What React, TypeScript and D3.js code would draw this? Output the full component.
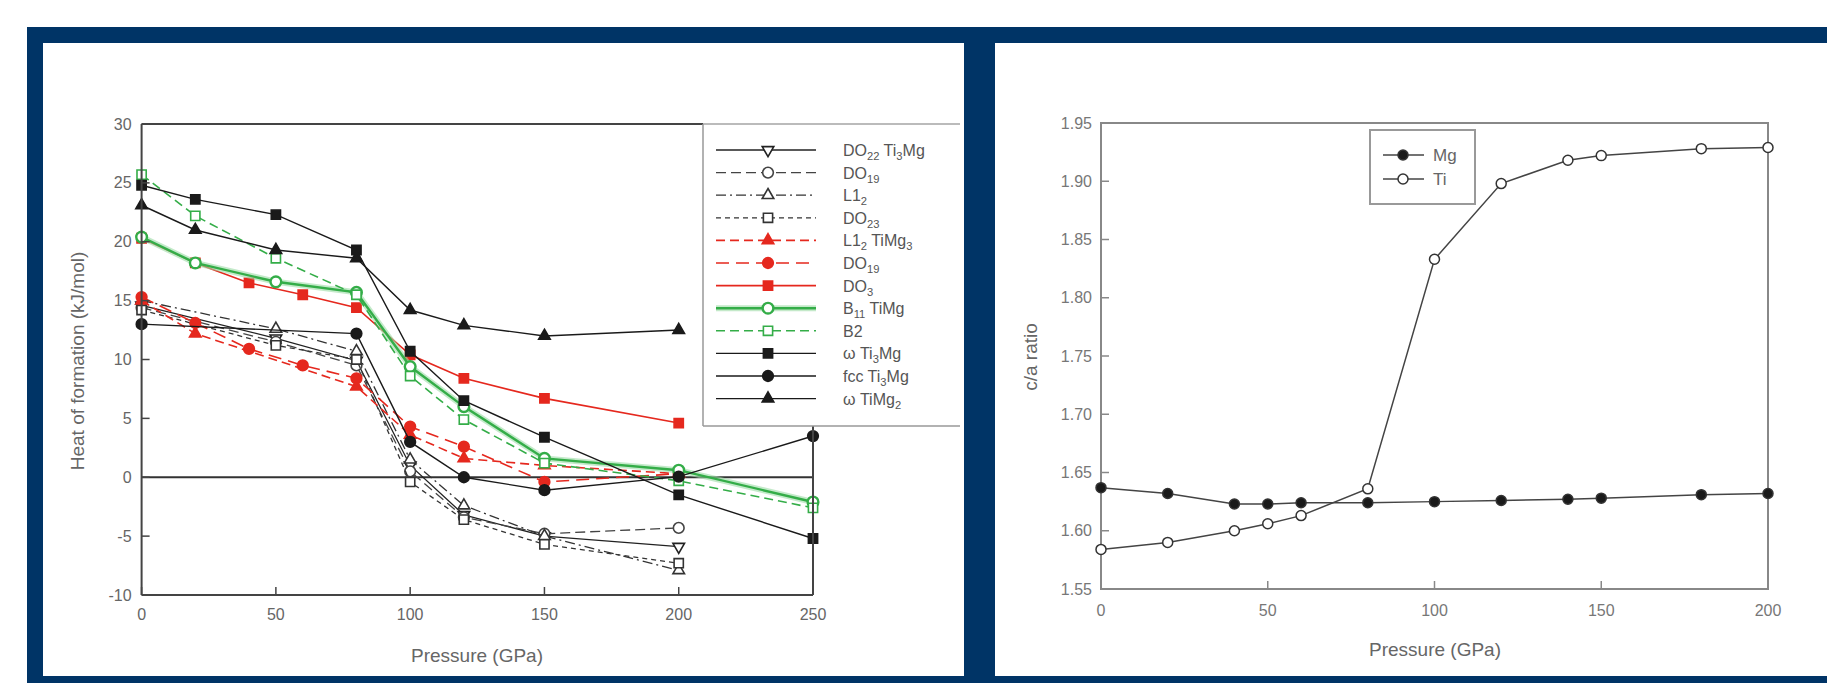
import React from 'react';
import * as d3 from 'd3';

// ---- left chart: heat of formation (kJ/mol) vs pressure (GPa)
const pOpen = [0, 50, 80, 100, 120, 150, 200];
const do22Ti3Mg = [14.6, 11.8, 9.9, 1.0, -3.2, -5.0, -5.9];
const do19Black = [14.4, 11.5, 9.5, 0.5, -3.4, -4.8, -4.3];
const l12Black = [15.0, 12.6, 10.7, 1.5, -2.4, -5.0, -7.9];
const do23Black = [14.2, 11.2, 10.0, -0.4, -3.6, -5.7, -7.3];
const pL12TiMg3 = [0, 20, 80, 100, 120, 150, 200];
const l12TiMg3 = [15.0, 12.2, 7.7, 3.6, 1.6, 1.0, 0.3];
const pDO19Red = [0, 20, 40, 60, 80, 100, 120, 150, 200];
const do19Red = [15.3, 13.1, 10.9, 9.5, 8.4, 4.3, 2.6, -0.4, 0.3];
const pDO3 = [0, 20, 40, 60, 80, 100, 120, 150, 200];
const do3Red = [20.3, 18.2, 16.5, 15.5, 14.4, 10.4, 8.4, 6.7, 4.6];
const pWide = [0, 20, 50, 80, 100, 120, 150, 200, 250];
const b11TiMg = [20.4, 18.2, 16.6, 15.7, 9.4, 6.0, 1.6, 0.6, -2.1];
const b2 = [25.7, 22.2, 18.6, 15.5, 8.6, 4.9, 1.2, -0.3, -2.6];
const omegaTi3Mg = [24.8, 23.6, 22.3, 19.3, 10.7, 6.5, 3.4, -1.5, -5.2];
const pFcc = [0, 80, 100, 120, 150, 200, 250];
const fccTi3Mg = [13.0, 12.2, 3.0, 0.0, -1.1, 0.05, 3.5];
const pOmegaTiMg2 = [0, 20, 50, 80, 100, 120, 150, 200];
const omegaTiMg2 = [23.1, 21.0, 19.3, 18.6, 14.2, 12.9, 12.0, 12.5];
const leftXTicks = [0, 50, 100, 150, 200, 250];
const leftYTicks = [-10, -5, 0, 5, 10, 15, 20, 25, 30];

// ---- right chart: c/a ratio vs pressure
const pRight = [0, 20, 40, 50, 60, 80, 100, 120, 140, 150, 180, 200];
const mgRatio = [1.637, 1.632, 1.623, 1.623, 1.624, 1.624, 1.625, 1.626, 1.627, 1.628, 1.631, 1.632];
const tiRatio = [1.584, 1.590, 1.600, 1.606, 1.613, 1.636, 1.833, 1.898, 1.918, 1.922, 1.928, 1.929];
const rightXTicks = [0, 50, 100, 150, 200];
const rightYTicks = [1.55, 1.6, 1.65, 1.7, 1.75, 1.8, 1.85, 1.9, 1.95];

const NAVY = '#003466';
const RED = '#e5281e';
const GREEN = '#34ad48';
const FONT = '"Liberation Sans", Arial, sans-serif';

// label pieces: [text, isSubscript]
type Piece = [string, boolean?];

const series = [
  { label: [['DO'], ['22', true], [' Ti'], ['3', true], ['Mg']] as Piece[], xs: pOpen, ys: do22Ti3Mg, color: '#222', dash: '', shape: 'triDown', filled: false, width: 1.3 },
  { label: [['DO'], ['19', true]] as Piece[], xs: pOpen, ys: do19Black, color: '#444', dash: '10 5', shape: 'circle', filled: false, width: 1.3 },
  { label: [['L1'], ['2', true]] as Piece[], xs: pOpen, ys: l12Black, color: '#333', dash: '10 4 2 4', shape: 'tri', filled: false, width: 1.3 },
  { label: [['DO'], ['23', true]] as Piece[], xs: pOpen, ys: do23Black, color: '#333', dash: '5 4', shape: 'square', filled: false, width: 1.3 },
  { label: [['L1'], ['2', true], [' TiMg'], ['3', true]] as Piece[], xs: pL12TiMg3, ys: l12TiMg3, color: RED, dash: '9 5', shape: 'tri', filled: true, width: 1.6 },
  { label: [['DO'], ['19', true]] as Piece[], xs: pDO19Red, ys: do19Red, color: RED, dash: '13 7', shape: 'circle', filled: true, width: 1.6 },
  { label: [['DO'], ['3', true]] as Piece[], xs: pDO3, ys: do3Red, color: RED, dash: '', shape: 'square', filled: true, width: 1.6 },
  { label: [['B'], ['11', true], [' TiMg']] as Piece[], xs: pWide, ys: b11TiMg, color: GREEN, dash: '', shape: 'circle', filled: false, width: 2.4, glow: true },
  { label: [['B2']] as Piece[], xs: pWide, ys: b2, color: GREEN, dash: '9 5', shape: 'square', filled: false, width: 1.6 },
  { label: [['ω Ti'], ['3', true], ['Mg']] as Piece[], xs: pWide, ys: omegaTi3Mg, color: '#1a1a1a', dash: '', shape: 'square', filled: true, width: 1.4 },
  { label: [['fcc Ti'], ['3', true], ['Mg']] as Piece[], xs: pFcc, ys: fccTi3Mg, color: '#1a1a1a', dash: '', shape: 'circle', filled: true, width: 1.4 },
  { label: [['ω TiMg'], ['2', true]] as Piece[], xs: pOmegaTiMg2, ys: omegaTiMg2, color: '#1a1a1a', dash: '', shape: 'tri', filled: true, width: 1.4 },
];

const symbolPath = (shape: string, size: number) => {
  const type = shape === 'circle' ? d3.symbolCircle : shape === 'square' ? d3.symbolSquare : d3.symbolTriangle;
  return d3.symbol().type(type).size(size)() as string;
};

const Marker = ({ shape, x, y, color, filled, strokeW = 1.6 }: any) => {
  const size = shape === 'circle' ? 90 : shape === 'square' ? 85 : 58;
  const rot = shape === 'triDown' ? ' rotate(180)' : '';
  return (
    <path
      d={symbolPath(shape, size)}
      transform={`translate(${x},${y})${rot}`}
      fill={filled ? color : '#fff'}
      stroke={color}
      strokeWidth={strokeW}
    />
  );
};

const Label = ({ pieces, x, y, size }: any) => {
  let shifted = false;
  return (
    <text x={x} y={y} fontSize={size} fill="#555" fontFamily={FONT}>
      {pieces.map((p: Piece, i: number) => {
        const isSub = !!p[1];
        let dy = 0;
        if (isSub && !shifted) { dy = 4; shifted = true; }
        else if (!isSub && shifted) { dy = -4; shifted = false; }
        return (
          <tspan key={i} dy={dy} fontSize={isSub ? size * 0.7 : size}>{p[0]}</tspan>
        );
      })}
    </text>
  );
};

const App = () => {
  const xL = d3.scaleLinear().domain([0, 250]).range([141.6, 813]);
  const yL = d3.scaleLinear().domain([-10, 30]).range([595, 124]);
  const xR = d3.scaleLinear().domain([0, 200]).range([1101, 1768]);
  const yR = d3.scaleLinear().domain([1.55, 1.95]).range([589, 123]);

  const lineL = d3.line<[number, number]>().x(d => xL(d[0])).y(d => yL(d[1]));
  const lineR = d3.line<[number, number]>().x(d => xR(d[0])).y(d => yR(d[1]));

  const legendX = 703, legendRight = 960, legendTop = 124, legendBottom = 426;
  const rowY = (i: number) => 150 + i * 22.6;

  return (
    <svg width={1827} height={683} style={{ position: 'absolute', left: 0, top: 0, background: '#fff' }} fontFamily={FONT}>
      {/* navy frame and white panels */}
      <rect x={27} y={27} width={1800} height={656} fill={NAVY} />
      <rect x={43} y={43} width={921} height={633} fill="#fff" />
      <rect x={995} y={43} width={832} height={633} fill="#fff" />

      {/* ---------- left chart ---------- */}
      <g>
        {/* zero line */}
        <line x1={xL(0)} x2={xL(250)} y1={yL(0)} y2={yL(0)} stroke="#333" strokeWidth={2} />

        {series.map((s, i) => {
          const pts = s.xs.map((x, j) => [x, s.ys[j]] as [number, number]);
          return (
            <g key={i}>
              {s.glow && <path d={lineL(pts) as string} fill="none" stroke="#9ddca6" strokeWidth={6} opacity={0.6} />}
              <path d={lineL(pts) as string} fill="none" stroke={s.color} strokeWidth={s.width} strokeDasharray={s.dash} />
              {pts.map((p, j) => (
                <Marker key={j} shape={s.shape} x={xL(p[0])} y={yL(p[1])} color={s.color} filled={s.filled}
                  strokeW={s.glow ? 2.4 : 1.6} />
              ))}
            </g>
          );
        })}

        {/* axes frame */}
        <line x1={xL(0)} x2={xL(0)} y1={yL(30)} y2={yL(-10)} stroke="#444" strokeWidth={2} />
        <line x1={xL(0)} x2={xL(250)} y1={yL(-10)} y2={yL(-10)} stroke="#444" strokeWidth={2} />
        <line x1={xL(0)} x2={legendX} y1={yL(30)} y2={yL(30)} stroke="#444" strokeWidth={2} />
        <line x1={xL(250)} x2={xL(250)} y1={legendBottom} y2={yL(-10)} stroke="#444" strokeWidth={2} />
        {leftYTicks.map(t => (
          <g key={t}>
            <line x1={xL(0)} x2={xL(0) + 8} y1={yL(t)} y2={yL(t)} stroke="#444" strokeWidth={1.5} />
            <text x={xL(0) - 10} y={yL(t)} dy="0.35em" textAnchor="end" fontSize={16} fill="#666">{t}</text>
          </g>
        ))}
        {leftXTicks.map(t => (
          <g key={t}>
            <line x1={xL(t)} x2={xL(t)} y1={yL(-10)} y2={yL(-10) - 8} stroke="#444" strokeWidth={1.5} />
            <text x={xL(t)} y={614} dy="0.35em" textAnchor="middle" fontSize={16} fill="#666">{t}</text>
          </g>
        ))}
        <text x={477} y={655} dy="0.35em" textAnchor="middle" fontSize={19} fill="#666">Pressure (GPa)</text>
        <text transform="translate(77,361) rotate(-90)" dy="0.35em" textAnchor="middle" fontSize={19} fill="#666">
          Heat of formation (kJ/mol)
        </text>

        {/* legend */}
        <rect x={legendX} y={legendTop} width={legendRight - legendX} height={legendBottom - legendTop} fill="#fff" stroke="none" />
        <line x1={legendX} x2={legendRight} y1={legendTop} y2={legendTop} stroke="#bbb" strokeWidth={2} />
        <line x1={legendX} x2={legendX} y1={legendTop} y2={legendBottom} stroke="#999" strokeWidth={1.5} />
        <line x1={legendX} x2={legendRight} y1={legendBottom} y2={legendBottom} stroke="#999" strokeWidth={1.5} />
        {series.map((s, i) => (
          <g key={i}>
            {s.glow && <line x1={716} x2={816} y1={rowY(i)} y2={rowY(i)} stroke="#9ddca6" strokeWidth={6} opacity={0.6} />}
            <line x1={716} x2={816} y1={rowY(i)} y2={rowY(i)} stroke={s.color} strokeWidth={s.width} strokeDasharray={s.dash} />
            <Marker shape={s.shape} x={768} y={rowY(i)} color={s.color} filled={s.filled} strokeW={s.glow ? 2.4 : 1.6} />
            <Label pieces={s.label} x={843} y={rowY(i) + 6} size={16} />
          </g>
        ))}
      </g>

      {/* ---------- right chart ---------- */}
      <g>
        <rect x={xR(0)} y={yR(1.95)} width={xR(200) - xR(0)} height={yR(1.55) - yR(1.95)} fill="none" stroke="#888" strokeWidth={2} />
        {rightYTicks.map(t => (
          <g key={t}>
            <line x1={xR(0)} x2={xR(0) + 8} y1={yR(t)} y2={yR(t)} stroke="#888" strokeWidth={1.5} />
            <text x={xR(0) - 9} y={yR(t)} dy="0.35em" textAnchor="end" fontSize={16} fill="#777">{t.toFixed(2)}</text>
          </g>
        ))}
        {rightXTicks.map(t => (
          <g key={t}>
            <line x1={xR(t)} x2={xR(t)} y1={yR(1.55)} y2={yR(1.55) - 8} stroke="#888" strokeWidth={1.5} />
            <text x={xR(t)} y={610} dy="0.35em" textAnchor="middle" fontSize={16} fill="#777">{t}</text>
          </g>
        ))}
        <text x={1435} y={649} dy="0.35em" textAnchor="middle" fontSize={19} fill="#666">Pressure (GPa)</text>
        <text transform="translate(1030,357) rotate(-90)" dy="0.35em" textAnchor="middle" fontSize={19} fill="#666">c/a ratio</text>

        {[
          { ys: mgRatio, filled: true },
          { ys: tiRatio, filled: false },
        ].map((s, i) => {
          const pts = pRight.map((x, j) => [x, s.ys[j]] as [number, number]);
          return (
            <g key={i}>
              <path d={lineR(pts) as string} fill="none" stroke="#444" strokeWidth={1.5} />
              {pts.map((p, j) => (
                <circle key={j} cx={xR(p[0])} cy={yR(p[1])} r={5} fill={s.filled ? '#1a1a1a' : '#fff'} stroke="#333" strokeWidth={1.5} />
              ))}
            </g>
          );
        })}

        {/* legend */}
        <rect x={1370} y={130} width={105} height={74} fill="#fff" stroke="#999" strokeWidth={2} />
        {[
          { name: 'Mg', filled: true, y: 155 },
          { name: 'Ti', filled: false, y: 179 },
        ].map(e => (
          <g key={e.name}>
            <line x1={1383} x2={1424} y1={e.y} y2={e.y} stroke="#444" strokeWidth={1.5} />
            <circle cx={1403} cy={e.y} r={5} fill={e.filled ? '#1a1a1a' : '#fff'} stroke="#333" strokeWidth={1.5} />
            <text x={1433} y={e.y} dy="0.35em" fontSize={17} fill="#666">{e.name}</text>
          </g>
        ))}
      </g>
    </svg>
  );
};

export default App;
